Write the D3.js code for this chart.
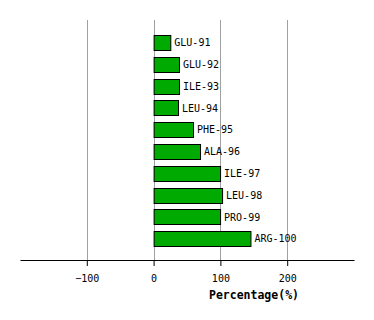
<!DOCTYPE html>
<html>
<head>
<meta charset="utf-8">
<script src="https://cdn.jsdelivr.net/npm/d3@7"></script>
<style>
  body { margin: 0; background: #fff; }
</style>
</head>
<body>
<div id="chart"></div>
<script>
// data
var residues = ["GLU-91", "GLU-92", "ILE-93", "LEU-94", "PHE-95",
                "ALA-96", "ILE-97", "LEU-98", "PRO-99", "ARG-100"];
var percentages = [25, 38, 38, 36.5, 59, 69.5, 99.5, 102.5, 99.5, 145];
var tickValues = [-100, 0, 100, 200];

var width = 374, height = 320;

var svg = d3.select("#chart")
    .append("svg")
    .attr("width", width)
    .attr("height", height);

// x scale: -200..300 over the axis line
var x = d3.scaleLinear()
    .domain([-200, 300])
    .range([20, 354]);

var y = d3.scaleBand()
    .domain(residues)
    .range([28.5, 253])
    .paddingInner(0.3)
    .paddingOuter(0.3);

var axisY = 260;

// grid lines
svg.append("g")
    .selectAll("line")
    .data(tickValues)
    .enter()
    .append("line")
    .attr("x1", function (d) { return Math.round(x(d)) + 0.5; })
    .attr("x2", function (d) { return Math.round(x(d)) + 0.5; })
    .attr("y1", 20)
    .attr("y2", axisY)
    .attr("stroke", "#a0a0a0")
    .attr("stroke-width", 1);

// bars
svg.append("g")
    .selectAll("rect")
    .data(percentages)
    .enter()
    .append("rect")
    .attr("x", x(0) + 0.5)
    .attr("y", function (d, i) { return Math.round(y(residues[i])) + 0.5; })
    .attr("width", function (d) { return x(d) - x(0); })
    .attr("height", Math.round(y.bandwidth()))
    .attr("fill", "#00aa00")
    .attr("stroke", "black")
    .attr("stroke-width", 1);

// bar labels
svg.append("g")
    .selectAll("text")
    .data(percentages)
    .enter()
    .append("text")
    .text(function (d, i) { return residues[i]; })
    .attr("x", function (d) { return x(d) + 4; })
    .attr("y", function (d, i) { return y(residues[i]) + y.bandwidth() / 2; })
    .attr("dy", "0.35em")
    .style("font-family", "DejaVu Sans Mono, monospace")
    .style("font-size", "10px")
    .style("fill", "black");

// x axis
var xAxis = svg.append("g")
    .attr("transform", "translate(0," + axisY + ")")
    .call(d3.axisBottom(x).tickValues(tickValues).tickSize(6).tickSizeOuter(0)
        .tickFormat(function (d) { return d < 0 ? "\u2212" + Math.abs(d) : d; }));

xAxis.select(".domain").attr("stroke", "black");
xAxis.selectAll(".tick line").attr("stroke", "black");
xAxis.selectAll(".tick text")
    .attr("y", 15)
    .style("font-family", "DejaVu Sans Mono, monospace")
    .style("font-size", "10px")
    .style("fill", "black");

svg.append("text")
    .text("Percentage(%)")
    .attr("x", 254)
    .attr("y", 299)
    .attr("text-anchor", "middle")
    .style("font-family", "DejaVu Sans Mono, monospace")
    .style("font-size", "11.5px")
    .style("font-weight", "bold")
    .style("fill", "black");
</script>
</body>
</html>
